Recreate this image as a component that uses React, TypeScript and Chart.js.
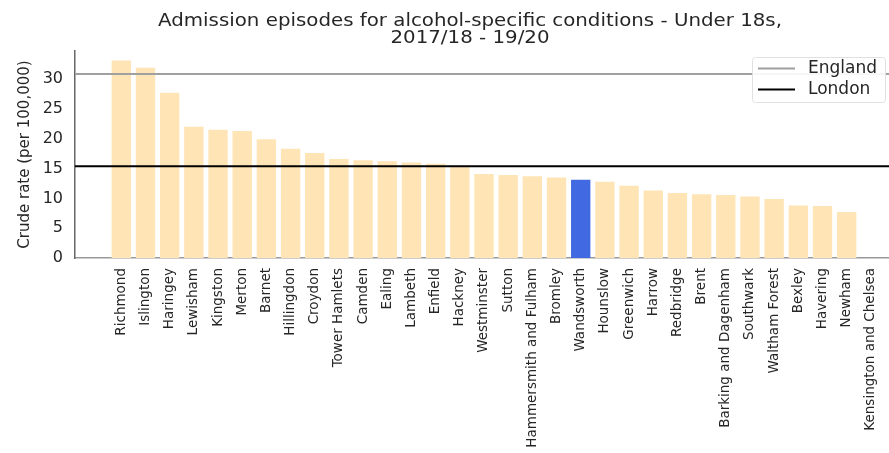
import React, { useEffect, useRef } from "react";
import { Chart, registerables } from "chart.js";

Chart.register(...registerables);

const BOROUGHS = [
  "Richmond", "Islington", "Haringey", "Lewisham", "Kingston", "Merton", "Barnet",
  "Hillingdon", "Croydon", "Tower Hamlets", "Camden", "Ealing", "Lambeth", "Enfield",
  "Hackney", "Westminster", "Sutton", "Hammersmith and Fulham", "Bromley", "Wandsworth",
  "Hounslow", "Greenwich", "Harrow", "Redbridge", "Brent", "Barking and Dagenham",
  "Southwark", "Waltham Forest", "Bexley", "Havering", "Newham", "Kensington and Chelsea",
];

const RATES: (number | null)[] = [
  33.1, 31.9, 27.7, 22.0, 21.5, 21.3, 19.9,
  18.3, 17.6, 16.6, 16.4, 16.2, 16.0, 15.8,
  15.5, 14.1, 13.9, 13.7, 13.5, 13.1,
  12.8, 12.1, 11.3, 10.9, 10.7, 10.55,
  10.3, 9.9, 8.8, 8.7, 7.7, null,
];

const HIGHLIGHT = "Wandsworth";
const ENGLAND = 30.85;
const LONDON = 15.4;
const Y_TICKS = [0, 5, 10, 15, 20, 25, 30];
const TITLE_LINES = [
  "Admission episodes for alcohol-specific conditions - Under 18s,",
  "2017/18 - 19/20",
];
const X_MIN = -1.915;
const X_MAX = 31.75;
const Y_MAX = 34.7;

const FONT = "'DejaVu Sans', sans-serif";
const TEXT = "#262626";

const titlePlugin = {
  id: "customTitle",
  afterDraw(chart: any) {
    const ctx = chart.ctx;
    ctx.save();
    ctx.fillStyle = TEXT;
    ctx.font = `18px ${FONT}`;
    ctx.textAlign = "center";
    ctx.textBaseline = "alphabetic";
    ctx.translate(470, 0);
    ctx.scale(1.1, 1);
    ctx.fillText(TITLE_LINES[0], 0, 26);
    ctx.fillText(TITLE_LINES[1], 0, 43);
    ctx.restore();
  },
};

const legendPlugin = {
  id: "customLegend",
  afterDraw(chart: any) {
    const ctx = chart.ctx;
    const x = 752, y = 57, w = 133, h = 45;
    ctx.save();
    ctx.fillStyle = "rgba(255,255,255,0.9)";
    ctx.strokeStyle = "#e0e0e0";
    ctx.lineWidth = 1;
    ctx.beginPath();
    (ctx as any).roundRect(x + 0.5, y + 0.5, w, h, 3);
    ctx.fill();
    ctx.stroke();
    const items = [
      { label: "England", color: "#a0a0a0", yy: 68.5 },
      { label: "London", color: "#000000", yy: 89.5 },
    ];
    ctx.font = `17px ${FONT}`;
    ctx.textBaseline = "middle";
    ctx.textAlign = "left";
    for (const it of items) {
      ctx.strokeStyle = it.color;
      ctx.lineWidth = 2;
      ctx.beginPath();
      ctx.moveTo(758, it.yy);
      ctx.lineTo(795, it.yy);
      ctx.stroke();
      ctx.fillStyle = TEXT;
      ctx.fillText(it.label, 808, it.yy);
    }
    ctx.restore();
  },
};

export default function App() {
  const ref = useRef<HTMLCanvasElement>(null);

  useEffect(() => {
    if (!ref.current) return;
    const barData = BOROUGHS.map((_, i) => ({ x: i, y: RATES[i] }));
    const barColors = BOROUGHS.map((b) => (b === HIGHLIGHT ? "#4169E1" : "#FFE4B5"));
    const chart = new Chart(ref.current, {
      type: "bar",
      data: {
        datasets: [
          {
            type: "line" as const,
            label: "England",
            data: [{ x: X_MIN, y: ENGLAND }, { x: X_MAX, y: ENGLAND }],
            borderColor: "#a0a0a0",
            borderWidth: 2,
            pointRadius: 0,
            order: 1,
          },
          {
            type: "line" as const,
            label: "London",
            data: [{ x: X_MIN, y: LONDON }, { x: X_MAX, y: LONDON }],
            borderColor: "#000000",
            borderWidth: 2,
            pointRadius: 0,
            order: 1,
          },
          {
            type: "bar" as const,
            label: "Rate",
            data: barData as any,
            backgroundColor: barColors,
            barPercentage: 0.8,
            categoryPercentage: 1,
            order: 2,
          },
        ],
      },
      options: {
        animation: false,
        responsive: false,
        maintainAspectRatio: false,
        layout: { padding: { top: 51, right: 0, left: 0, bottom: 0 } },
        plugins: {
          legend: { display: false },
          title: { display: false },
          tooltip: { enabled: false },
        },
        scales: {
          x: {
            type: "linear",
            min: X_MIN,
            max: X_MAX,
            offset: false,
            grid: { display: false, drawTicks: false },
            border: { display: true, color: "#999999", width: 1.5 },
            afterBuildTicks: (scale: any) => {
              scale.ticks = BOROUGHS.map((_, i) => ({ value: i }));
            },
            afterFit: (scale: any) => {
              scale.height = 453 - 258;
              scale.paddingRight = 0;
              scale.paddingLeft = 0;
            },
            ticks: {
              autoSkip: false,
              maxRotation: 90,
              minRotation: 90,
              padding: 10,
              color: TEXT,
              font: { family: FONT, size: 13.5 },
              callback: (v: any) => BOROUGHS[Math.round(Number(v))] ?? "",
            },
          },
          y: {
            type: "linear",
            min: 0,
            max: Y_MAX,
            grid: { display: false, drawTicks: false },
            border: { display: true, color: "#666666", width: 1.5 },
            afterBuildTicks: (scale: any) => {
              scale.ticks = Y_TICKS.map((v) => ({ value: v }));
            },
            afterFit: (scale: any) => {
              scale.width = 75;
              scale.paddingTop = 0;
              scale.paddingBottom = 0;
            },
            ticks: {
              padding: 12,
              color: TEXT,
              font: { family: FONT, size: 16 },
            },
            title: {
              display: true,
              text: "Crude rate (per 100,000)",
              color: TEXT,
              font: { family: FONT, size: 15 },
              padding: { top: 16, bottom: 0 },
            },
          },
        },
      },
      plugins: [titlePlugin, legendPlugin],
    });
    return () => chart.destroy();
  }, []);

  return (
    <div style={{ position: "absolute", left: 0, top: 0, width: 889, height: 453, background: "#fff" }}>
      <canvas ref={ref} width={889} height={453} style={{ display: "block", width: 889, height: 453 }} />
    </div>
  );
}
